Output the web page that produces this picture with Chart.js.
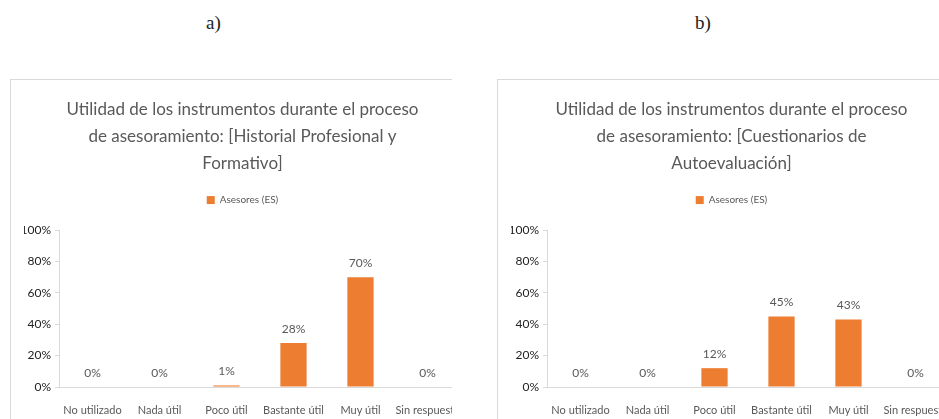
<!DOCTYPE html>
<html>
<head>
<meta charset="utf-8">
<script src="https://cdn.jsdelivr.net/npm/chart.js@4.4.0/dist/chart.umd.min.js"></script>
<style>
  body { margin: 0; background: #fff; width: 939px; height: 419px; position: relative; overflow: hidden; }
  .etiqueta { position: absolute; top: 12px; font-family: "Liberation Serif", serif; font-size: 19px; color: #222; }
  .caja { position: absolute; top: 79px; height: 340px; width: 442px; overflow: hidden;
          border-left: 1px solid #d9d9d9; border-top: 1px solid #d9d9d9; box-sizing: border-box; }
  .caja canvas { position: absolute; left: -1px; top: -1px; }
</style>
</head>
<body>
<div class="etiqueta" style="left:206px">a)</div>
<div class="etiqueta" style="left:695px">b)</div>
<div class="caja" style="left:10px"><canvas id="graficoA" width="460" height="340"></canvas></div>
<div class="caja" style="left:497px"><canvas id="graficoB" width="460" height="340"></canvas></div>
<script>
// datos
const categorias = ['No utilizado', 'Nada útil', 'Poco útil', 'Bastante útil', 'Muy útil', 'Sin respuesta'];
const valoresHistorial = [0, 0, 1, 28, 70, 0];
const valoresCuestionarios = [0, 0, 12, 45, 43, 0];
const nombreSerie = 'Asesores (ES)';
const tituloA = ['Utilidad de los instrumentos durante el proceso', 'de asesoramiento: [Historial Profesional y', 'Formativo]'];
const tituloB = ['Utilidad de los instrumentos durante el proceso', 'de asesoramiento: [Cuestionarios de', 'Autoevaluación]'];

const naranja = '#ed7d31';
const gris = '#595959';
const lineaEje = '#d9d9d9';

// etiquetas de valor encima de cada barra
const etiquetasValor = {
  id: 'etiquetasValor',
  afterDatasetsDraw(chart) {
    const ctx = chart.ctx;
    const meta = chart.getDatasetMeta(0);
    ctx.save();
    ctx.font = '12px Lato';
    ctx.fillStyle = gris;
    ctx.textAlign = 'center';
    ctx.textBaseline = 'bottom';
    meta.data.forEach((barra, i) => {
      ctx.fillText(chart.data.datasets[0].data[i] + '%', barra.x, barra.y - 8);
    });
    ctx.restore();
  }
};

// un poco más de aire bajo la leyenda
const espacioLeyenda = {
  id: 'espacioLeyenda',
  beforeInit(chart) {
    const fitOriginal = chart.legend.fit;
    chart.legend.fit = function () {
      fitOriginal.bind(chart.legend)();
      this.height += 15;
    };
  }
};

function crearGrafico(id, titulo, valores, anchoEje, derecha) {
  const ctx = document.getElementById(id).getContext('2d');
  return new Chart(ctx, {
    type: 'bar',
    data: {
      labels: categorias,
      datasets: [{
        label: nombreSerie,
        data: valores,
        backgroundColor: naranja,
        categoryPercentage: 0.8,
        barPercentage: 0.49
      }]
    },
    options: {
      responsive: false,
      animation: false,
      layout: { padding: { left: 14, right: derecha, top: 0, bottom: 0 } },
      plugins: {
        title: {
          display: true,
          text: titulo,
          color: gris,
          font: { family: 'Lato', size: 17, weight: 'normal', lineHeight: 1.59 },
          padding: { top: 17, bottom: 8 }
        },
        legend: {
          display: true,
          labels: {
            color: gris,
            font: { family: 'Lato', size: 10 },
            boxWidth: 8,
            boxHeight: 8,
            padding: 10
          }
        },
        tooltip: { enabled: false }
      },
      scales: {
        x: {
          grid: { display: false },
          border: { display: true, color: lineaEje },
          ticks: { color: gris, font: { family: 'Lato', size: 11 }, padding: 9, maxRotation: 0, autoSkip: false },
          afterFit(scale) { scale.height = 32; }
        },
        y: {
          min: 0,
          max: 100,
          ticks: { stepSize: 20, color: '#222', font: { family: 'Lato', size: 12 }, padding: 4,
                   callback: v => v + '%' },
          grid: { drawOnChartArea: false, drawTicks: true, tickLength: 4, color: lineaEje },
          border: { display: true, color: lineaEje },
          afterFit(scale) { scale.width = anchoEje - 14; }
        }
      }
    },
    plugins: [etiquetasValor, espacioLeyenda]
  });
}

crearGrafico('graficoA', tituloA, valoresHistorial, 49, 9);
crearGrafico('graficoB', tituloB, valoresCuestionarios, 50, 5);
</script>
</body>
</html>
